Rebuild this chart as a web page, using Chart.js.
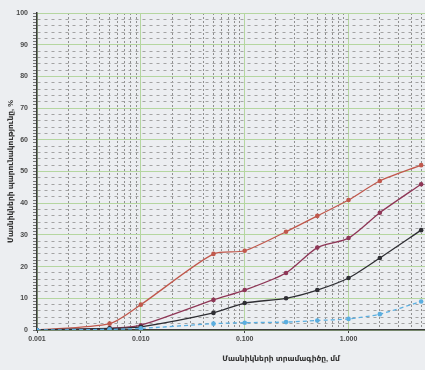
<!DOCTYPE html>
<html>
<head>
<meta charset="utf-8">
<script src="https://cdn.jsdelivr.net/npm/chart.js@4"></script>
<style>
html,body{margin:0;padding:0;background:#eceef1;overflow:hidden;}
#wrap{width:530px;height:370px;position:relative;}
</style>
</head>
<body>
<div id="wrap"><canvas id="c"></canvas></div>
<script>
// grain sizes, mm
const sizes = [0.001, 0.005, 0.01, 0.05, 0.1, 0.25, 0.5, 1, 2, 5];
// cumulative percentages
const seriesRed    = [0, 2, 8, 24, 25, 31, 36, 41, 47, 52];
const seriesPurple = [0, 0.5, 1.5, 9.5, 12.6, 18, 26, 29, 37, 46];
const seriesBlack  = [0, 0.5, 1, 5.4, 8.5, 10, 12.6, 16.4, 22.7, 31.5];
const seriesBlue   = [0, 0.2, 0.5, 2, 2.3, 2.5, 3, 3.5, 5, 9];
// axis tick labels
const xDecades = [0.001, 0.01, 0.1, 1, 10];
const xTickLabels = ['0.001', '0.010', '0.100', '1.000', '10.000'];
const yTickLabels = ['0','10','20','30','40','50','60','70','80','90','100'];
const xTitle = 'Մասնիկների տրամագիծը, մմ';
const yTitle = 'Մասնիկների պարունակությունը, %';

const FONT = "'Liberation Sans', 'DejaVu Sans', sans-serif";
Chart.defaults.font.family = FONT;

function isDecade(v){ return xDecades.some(d => Math.abs(v - d) / d < 1e-6); }
function allLogTicks(){
  const t = [];
  for (let e = -3; e <= 1; e++) for (let m = 1; m <= 9; m++) {
    const v = Number((m * Math.pow(10, e)).toPrecision(3));
    if (v <= 50) t.push(v);
  }
  return t;
}
const pts = arr => sizes.map((s, i) => ({x: s, y: arr[i]}));

function ds(arr, color, dash){
  return {
    data: pts(arr), borderColor: color, backgroundColor: color,
    borderWidth: 1.3, pointRadius: 2.3, pointBorderWidth: 0,
    tension: 0.25, borderDash: dash || [], fill: false
  };
}

new Chart(document.getElementById('c'), {
  type: 'line',
  data: {
    datasets: [
      ds(seriesBlue, '#5aaee0', [4, 3]),
      ds(seriesBlack, '#2e2e33'),
      ds(seriesPurple, '#8e3656'),
      ds(seriesRed, '#c0584c')
    ]
  },
  options: {
    responsive: true, maintainAspectRatio: false, animation: false,
    layout: {padding: {top: 13, right: 5, bottom: 0, left: 0}},
    plugins: {legend: {display: false}, tooltip: {enabled: false}},
    scales: {
      x: {
        type: 'logarithmic', min: 0.001, max: 50, position: 'bottom', weight: 2,
        afterBuildTicks: s => { s.ticks = allLogTicks().map(v => ({value: v})); },
        afterFit: s => { s.height = 40; },
        ticks: {
          autoSkip: false, maxRotation: 0, padding: 2, color: '#4a4a4a',
          font: {size: 7, weight: 'bold'},
          callback: v => { const i = xDecades.findIndex(d => Math.abs(v - d) / d < 1e-6); return i >= 0 ? xTickLabels[i] : ''; }
        },
        grid: {
          color: c => (c.tick && isDecade(c.tick.value)) ? 'rgba(0,0,0,0)' : '#8f8f8f',
          lineWidth: 1, tickLength: 3,
          tickColor: c => (c.tick && isDecade(c.tick.value)) ? '#444' : 'rgba(0,0,0,0)'
        },
        border: {display: true, color: '#3a3a3a', width: 1.5, dash: [2, 2]},
        title: {display: true, text: xTitle, color: '#333', font: {size: 7.5, weight: 'bold'}, padding: {top: 4, bottom: 7}}
      },
      x2: {
        type: 'logarithmic', min: 0.001, max: 50, position: 'bottom', weight: 1,
        afterBuildTicks: s => { s.ticks = xDecades.map(v => ({value: v})); },
        afterFit: s => { s.height = 0; },
        ticks: {display: false},
        grid: {color: '#b5d6a0', lineWidth: 1, drawTicks: false},
        border: {display: false}
      },
      y: {
        type: 'linear', min: 0, max: 100, position: 'left', weight: 2,
        afterFit: s => { s.width = 37; },
        ticks: {
          stepSize: 1, autoSkip: false, padding: 5, color: '#4a4a4a',
          font: {size: 7, weight: 'bold'},
          callback: v => (v % 10 === 0) ? yTickLabels[v / 10] : ''
        },
        grid: {
          color: c => { const v = c.tick ? c.tick.value : 1; return (v % 2 === 0 && v % 10 !== 0) ? '#a3a3a3' : 'rgba(0,0,0,0)'; },
          lineWidth: 1, tickLength: 4, tickColor: '#555', tickWidth: 0.8
        },
        border: {display: true, color: '#3a3a3a', width: 1.5, dash: [3, 4]},
        title: {display: true, text: yTitle, color: '#333', font: {size: 7.5, weight: 'bold'}, padding: {top: 6, bottom: 0}}
      },
      y2: {
        type: 'linear', min: 0, max: 100, position: 'left', weight: 1,
        afterFit: s => { s.width = 0; },
        ticks: {display: false, stepSize: 10},
        grid: {color: '#b5d6a0', lineWidth: 1, drawTicks: false},
        border: {display: false}
      }
    }
  }
});
</script>
</body>
</html>
